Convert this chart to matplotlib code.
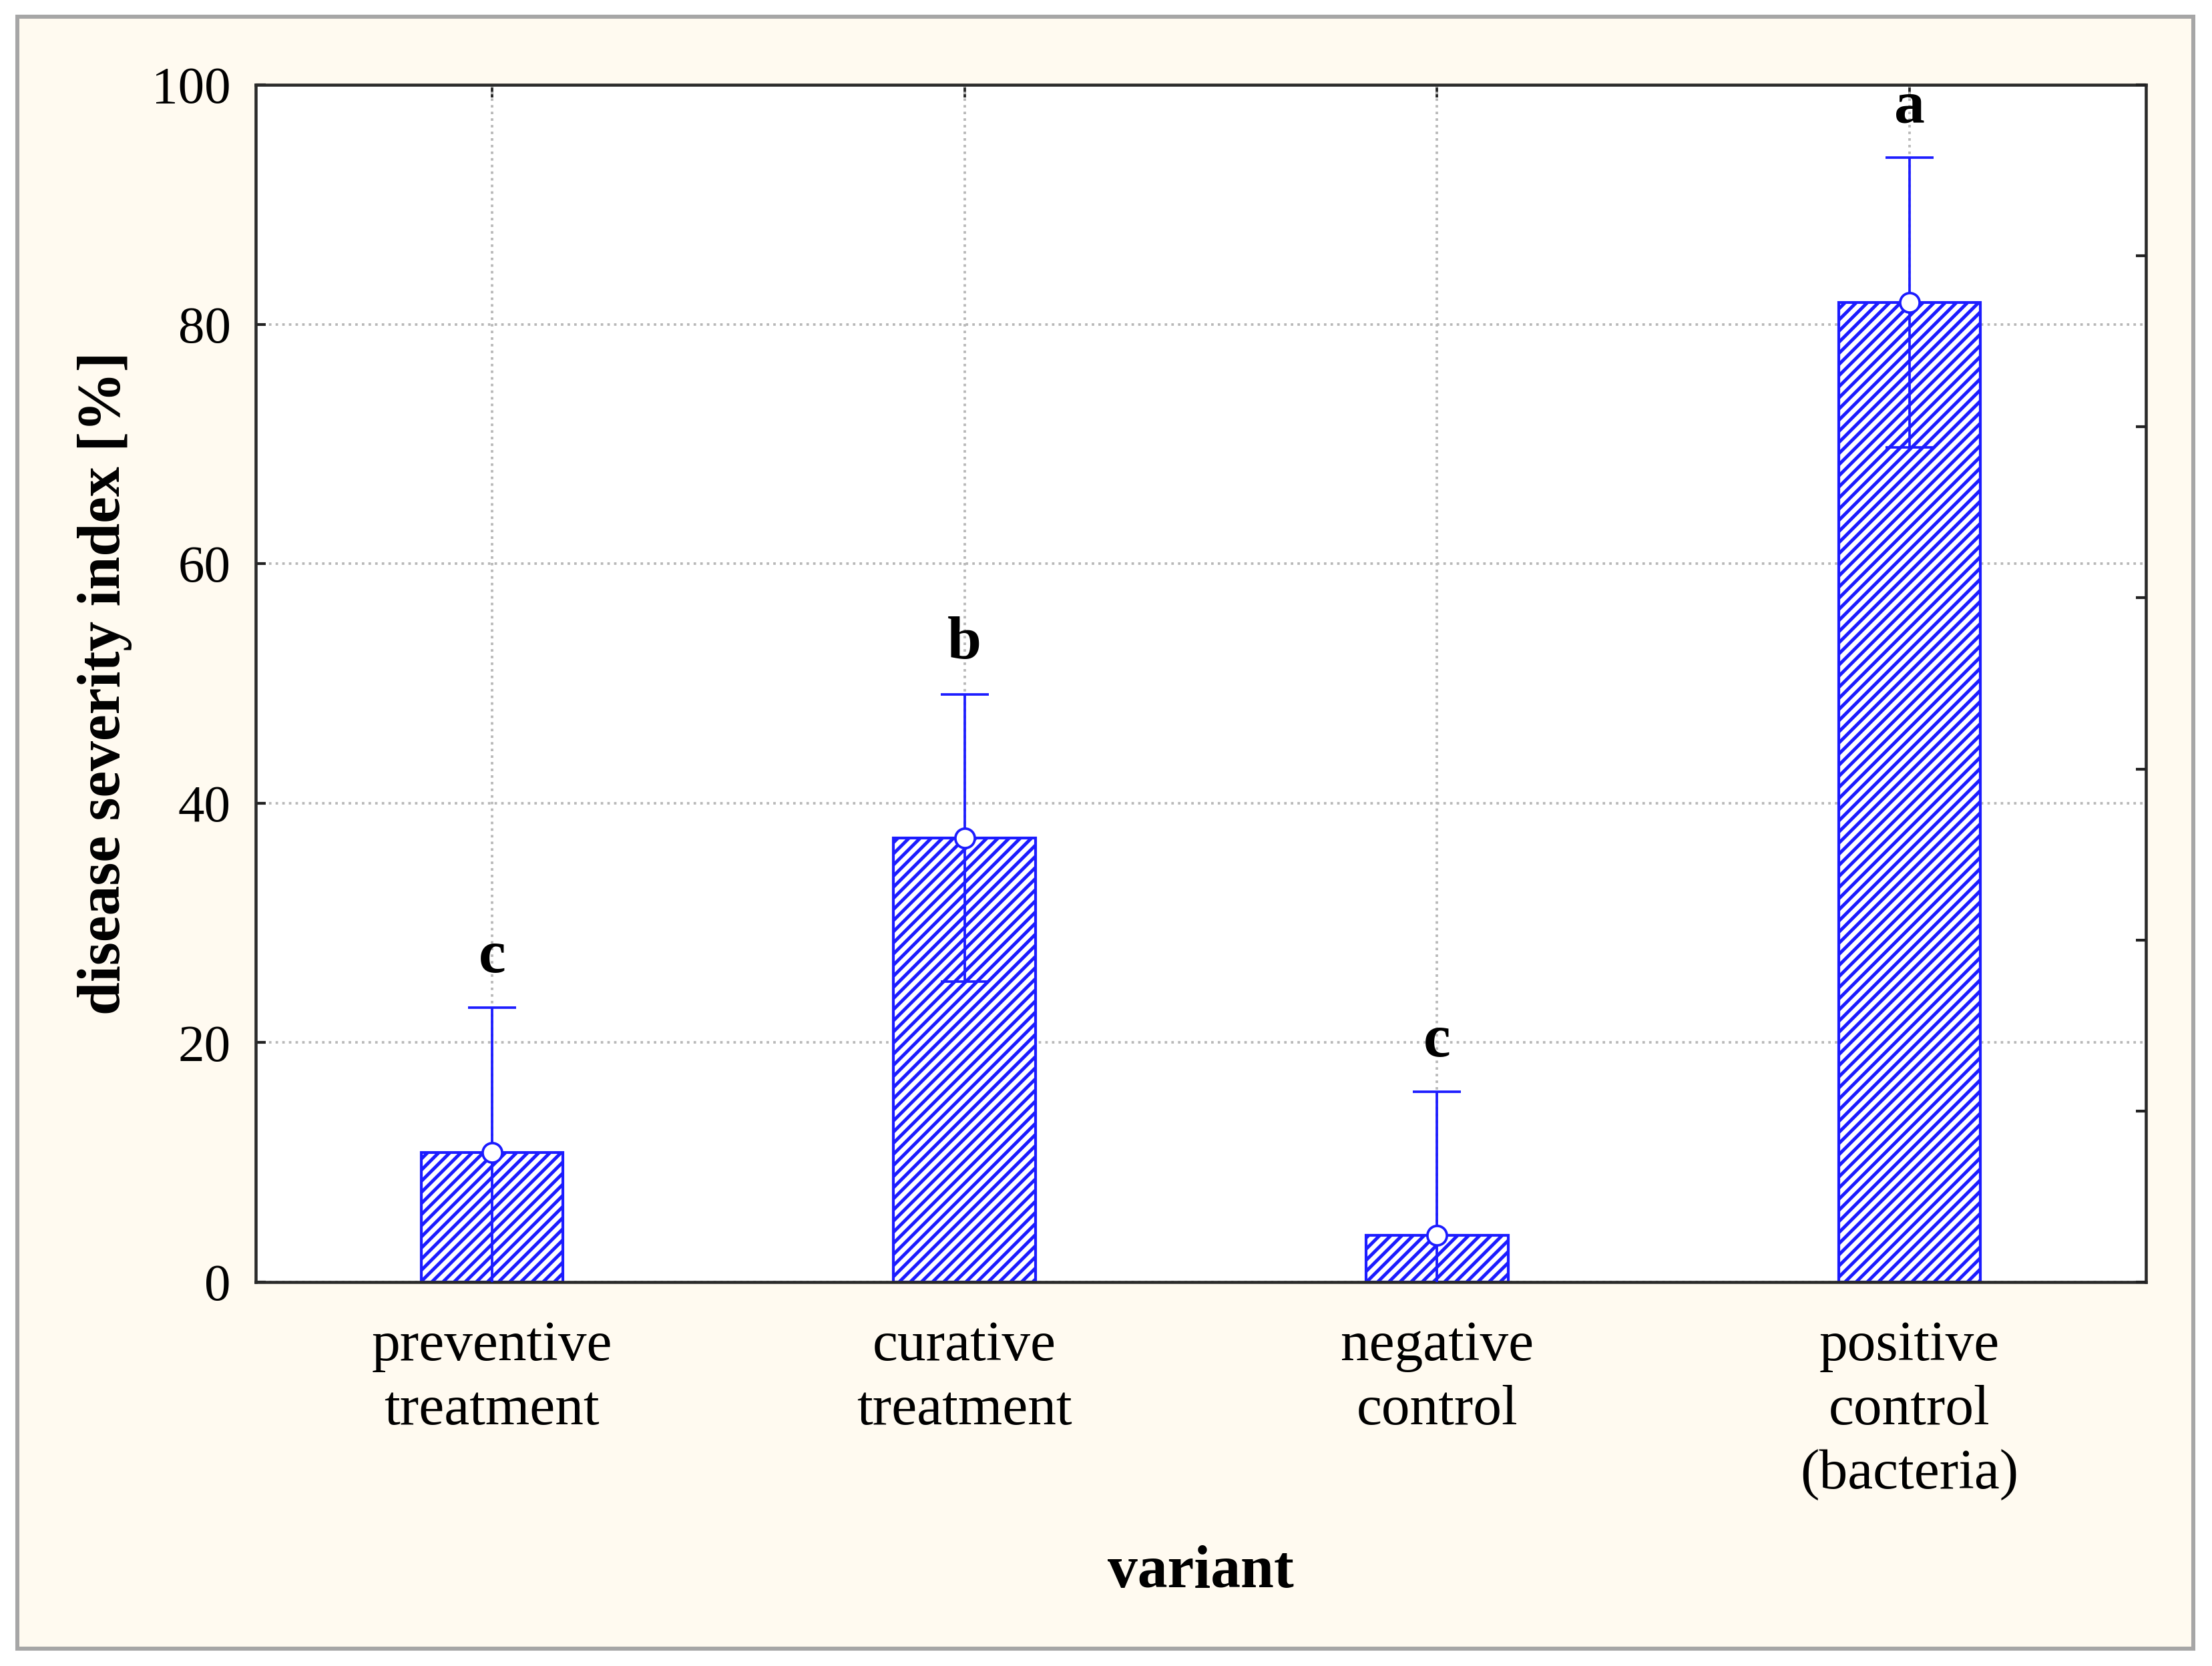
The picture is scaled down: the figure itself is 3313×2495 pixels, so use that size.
import matplotlib
matplotlib.use('Agg')
import matplotlib.pyplot as plt
import numpy as np
from matplotlib.patches import Rectangle

# data
variants = ['preventive\ntreatment', 'curative\ntreatment', 'negative\ncontrol', 'positive\ncontrol\n(bacteria)']
severity = [10.8, 37.1, 3.9, 81.8]
severity_err = [12.1, 12.0, 12.0, 12.1]
group_letters = ['c', 'b', 'c', 'a']
y_ticks = [0, 20, 40, 60, 80, 100]

blue = '#1c1cff'
cream = '#fffaf0'

plt.rcParams['font.family'] = ['Liberation Serif', 'DejaVu Serif']
plt.rcParams['hatch.linewidth'] = 1.2
plt.rcParams['hatch.color'] = blue

W, H, dpi = 3313, 2495, 300
fig = plt.figure(figsize=(W / dpi, H / dpi), dpi=dpi, facecolor='white')

# cream panel with grey frame, kept behind the axes
fig.patches.append(Rectangle((26 / W, 1 - 2469 / H), (3285 - 26) / W, (2469 - 25) / H,
                             transform=fig.transFigure, facecolor=cream, edgecolor='#a6a6a6',
                             linewidth=1.45, zorder=-10))

ax = fig.add_axes([383 / W, 1 - 1920 / H, (3214 - 383) / W, (1920 - 127) / H])
ax.set_facecolor('white')

x = np.arange(len(variants))
ax.bar(x, severity, width=0.3, facecolor='white', edgecolor=blue, hatch='//////',
       linewidth=1.0, zorder=2)
ax.errorbar(x, severity, yerr=severity_err, fmt='o', color=blue, ecolor=blue,
            elinewidth=0.9, capsize=8.7, capthick=0.9, markersize=7,
            markerfacecolor='white', markeredgecolor=blue, markeredgewidth=0.9, zorder=3)

for xi, m, e, lab in zip(x, severity, severity_err, group_letters):
    ax.text(xi, m + e + 4.2, lab, ha='center', va='center', fontsize=22,
            fontweight='bold', zorder=4)

ax.set_xlim(-0.5, 3.5)
ax.set_ylim(0, 100)
ax.set_yticks(y_ticks)
ax.set_xticks(x)
ax.set_xticklabels(variants, fontsize=20.5, linespacing=1.32)
for t in ax.get_xticklabels():
    t.set_multialignment('center')
ax.tick_params(axis='y', direction='in', length=3.6, width=1.0, labelsize=19, pad=9,
               colors='#222222', labelcolor='black')
ax.tick_params(axis='x', direction='in', length=2, width=0.8, pad=14, colors='#222222',
               labelcolor='black')

ax.grid(True, linestyle=':', color='#b8b8b8', linewidth=0.9, zorder=0)
ax.set_axisbelow(True)

for s in ax.spines.values():
    s.set_linewidth(1.1)
    s.set_color('#2a2a2a')

# right side ticks at Statistica-style spacing
right = ax.twinx()
right.set_ylim(ax.get_ylim())
right.set_yticks(np.arange(0, 100.01, 100 / 7))
right.tick_params(axis='y', direction='in', length=3.6, width=1.0, labelright=False, colors='#222222')
for s in right.spines.values():
    s.set_visible(False)

top = ax.secondary_xaxis('top')
top.set_xticks(x)
top.tick_params(axis='x', direction='in', length=4.5, width=0.9, labeltop=False, colors='#222222')
top.spines['top'].set_visible(False)

ax.set_ylabel('disease severity index [%]', fontsize=21.5, fontweight='bold', labelpad=7)
ax.set_xlabel('variant', fontsize=21.5, fontweight='bold', labelpad=16)

fig.savefig('out.png', dpi=dpi, facecolor='white')
